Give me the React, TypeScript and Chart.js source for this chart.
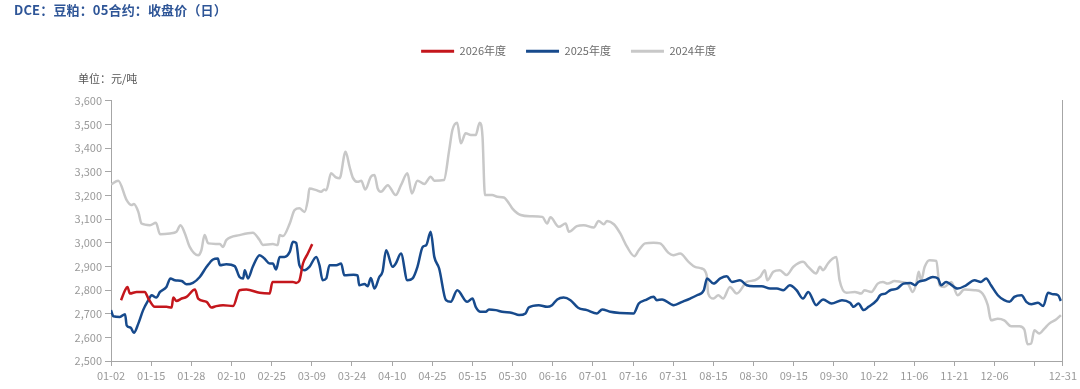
import React, { useEffect, useRef } from "react";
import { Chart, registerables } from "chart.js";

Chart.register(...registerables);

const TITLE = "DCE：豆粕：05合约：收盘价（日）";
const UNIT = "单位：元/吨";
const SERIES_NAMES = ["2026年度", "2025年度", "2024年度"];
const SERIES_COLORS = ["#c4161c", "#174a8c", "#c8c8c8"];

// x = trading-day index (0 = 01-02), y = 元/吨
const X_MAX = 237;
const TICK_POS = [0, 10, 20, 30, 40, 50, 60, 70, 80, 90, 100, 110, 120, 130, 140, 150, 160, 170, 180, 190, 200, 210, 220, 230, 237];
const TICK_LABELS = ["01-02", "01-15", "01-28", "02-10", "02-25", "03-09", "03-24", "04-10", "04-25", "05-15", "05-30", "06-16", "07-01", "07-16", "07-31", "08-15", "08-30", "09-15", "09-30", "10-22", "11-06", "11-21", "12-06", "", "12-31"];
const Y_MIN = 2500;
const Y_MAX = 3600;
const Y_STEP = 100;

const S2026_X = [2.5, 3.5, 4.1, 4.7, 6.4, 8.4, 9.3, 10.9, 13.8, 15.1, 15.5, 16.3, 17.6, 18.8, 20.9, 21.7, 23.8, 25, 26.2, 27.9, 30.4, 32, 33.7, 37, 39.5, 40.2, 43.6, 45.3, 46.1, 46.9, 47.8, 49, 50.1];
const S2026_Y = [2757, 2799, 2813, 2785, 2792, 2792, 2764, 2729, 2729, 2726, 2768, 2754, 2764, 2771, 2802, 2764, 2750, 2726, 2732, 2736, 2732, 2799, 2802, 2788, 2785, 2834, 2834, 2834, 2830, 2839, 2912, 2954, 2994];

const S2025_X = [0, 0.6, 2.2, 3.5, 3.9, 4.9, 5.7, 6.8, 8, 9.3, 10.1, 11.3, 12.2, 13.8, 14.8, 15.9, 17.6, 18.8, 20.4, 22.1, 23.8, 25.4, 26.6, 27.1, 28.7, 30.8, 32, 32.9, 33.3, 34.1, 35.3, 37, 38.2, 39.5, 40.3, 41.1, 42, 43.2, 44.5, 45.3, 46.1, 46.9, 48.2, 49.4, 51.1, 51.9, 52.7, 53.6, 54.4, 56.1, 57.3, 58.1, 60.4, 61.4, 61.8, 63.1, 63.9, 64.7, 65.6, 66.8, 67.6, 68.5, 70.1, 70.9, 72.2, 73.8, 75.1, 76.3, 77.6, 78.5, 79.6, 80.5, 81.7, 83.4, 84.6, 86.2, 88.7, 90, 90.8, 92, 93.3, 94.1, 95.8, 97.4, 99.9, 101.6, 103.2, 104, 106.5, 108.6, 109.8, 111.1, 112.7, 114.4, 116.3, 118.5, 121, 122.3, 124.3, 126.8, 130.1, 131.4, 133, 135.1, 135.9, 137.2, 140.1, 142.2, 144.2, 145.9, 147.6, 148.4, 150, 151.7, 153.3, 154.6, 156.6, 158.3, 160, 162, 164.1, 165.8, 167.4, 169, 170.7, 172.3, 173.6, 175.6, 176.5, 177.3, 179.4, 182, 184, 184.9, 186.1, 187.4, 188.6, 190.7, 191.5, 192.8, 194, 195.7, 197.3, 199, 200.2, 201, 202.6, 204.6, 205.9, 206.7, 207.9, 210.8, 212.9, 215, 216.6, 217.9, 219.1, 220.8, 222.4, 223.7, 224.9, 226.7, 227.9, 229.1, 230.8, 232.1, 233.3, 234.6, 235.8, 236.5];
const S2025_Y = [2715, 2689, 2686, 2698, 2651, 2641, 2619, 2658, 2715, 2757, 2778, 2768, 2792, 2813, 2849, 2841, 2838, 2824, 2830, 2855, 2898, 2929, 2933, 2905, 2909, 2901, 2855, 2849, 2884, 2849, 2898, 2947, 2933, 2912, 2912, 2887, 2940, 2940, 2961, 3004, 2999, 2905, 2884, 2898, 2940, 2905, 2841, 2849, 2905, 2905, 2912, 2862, 2864, 2862, 2820, 2825, 2816, 2851, 2806, 2855, 2877, 2968, 2898, 2912, 2954, 2841, 2849, 2898, 2982, 2990, 3046, 2940, 2891, 2757, 2750, 2799, 2750, 2764, 2729, 2708, 2708, 2718, 2715, 2708, 2703, 2694, 2701, 2726, 2736, 2729, 2736, 2760, 2768, 2757, 2725, 2715, 2701, 2718, 2708, 2703, 2701, 2743, 2757, 2771, 2757, 2760, 2736, 2750, 2764, 2778, 2799, 2849, 2827, 2849, 2858, 2834, 2841, 2820, 2816, 2816, 2806, 2806, 2799, 2820, 2799, 2764, 2792, 2736, 2750, 2760, 2743, 2757, 2746, 2729, 2743, 2715, 2729, 2757, 2778, 2785, 2799, 2806, 2827, 2830, 2820, 2834, 2841, 2855, 2849, 2820, 2834, 2806, 2820, 2841, 2834, 2849, 2820, 2778, 2757, 2750, 2771, 2778, 2750, 2740, 2746, 2732, 2788, 2782, 2778, 2754];

const S2024_X = [0, 1.8, 3.9, 5.1, 5.7, 6.8, 7.6, 9.7, 11.2, 12.2, 14.7, 16.3, 17.3, 18.4, 19.6, 21.7, 22.5, 23.3, 24.2, 27.1, 27.9, 28.7, 32, 35.3, 37, 37.8, 40.3, 41.5, 42, 42.8, 44.5, 45.7, 46.9, 48.2, 49, 49.4, 51.1, 52.3, 53.1, 53.6, 54.8, 56, 56.9, 58.4, 59.4, 60.2, 61.4, 62.3, 63.3, 64.7, 65.6, 66.4, 67.2, 68.9, 70.9, 72.2, 73.8, 74.9, 76.3, 78, 79.6, 80.5, 82.9, 84.2, 85, 86.2, 87.1, 88.3, 89.6, 90.8, 91.8, 92.5, 93.1, 94.9, 96.2, 97.8, 99.1, 99.9, 102, 104.5, 107.4, 108.6, 109.4, 111.5, 113.2, 114, 116, 117.7, 120.2, 121.4, 122.7, 123.5, 125.2, 126.8, 128.5, 130.3, 131.4, 133, 135.1, 136.7, 138.8, 140, 141.7, 143.8, 145.4, 147.1, 148.3, 148.7, 150, 151.2, 152.4, 154.1, 155.8, 158.3, 160.3, 161.6, 162.8, 163.4, 164.9, 166.5, 168.2, 169.9, 172.3, 173.6, 175.6, 176.5, 177.3, 178.5, 179.7, 180.6, 181.4, 183.1, 185.2, 186.8, 187.6, 189.3, 190.9, 192.2, 193.4, 195.1, 196.7, 198.4, 199.6, 200.5, 201.1, 201.7, 202.6, 203.8, 205.5, 206.3, 207.5, 209.2, 210.8, 212.5, 215, 216.6, 218.3, 219.1, 220.8, 222.4, 224.1, 226.2, 227.4, 228.2, 229.1, 229.9, 231.1, 232.4, 233.6, 235.3, 236.5];
const S2024_Y = [3246, 3262, 3180, 3159, 3163, 3130, 3081, 3074, 3084, 3036, 3039, 3046, 3074, 3039, 2982, 2947, 2968, 3032, 2997, 2994, 2982, 3011, 3032, 3042, 3011, 2990, 2994, 2990, 3032, 3028, 3081, 3138, 3145, 3130, 3180, 3229, 3222, 3215, 3225, 3222, 3293, 3276, 3272, 3384, 3321, 3275, 3257, 3262, 3225, 3279, 3286, 3229, 3215, 3243, 3201, 3243, 3293, 3208, 3262, 3248, 3279, 3262, 3265, 3391, 3476, 3507, 3420, 3462, 3455, 3455, 3507, 3448, 3201, 3201, 3194, 3191, 3166, 3145, 3117, 3112, 3109, 3081, 3107, 3067, 3081, 3046, 3070, 3074, 3064, 3092, 3078, 3092, 3078, 3039, 2982, 2943, 2968, 2997, 3000, 2997, 2957, 2947, 2954, 2919, 2898, 2891, 2863, 2785, 2764, 2778, 2764, 2813, 2785, 2834, 2841, 2855, 2884, 2841, 2877, 2884, 2863, 2898, 2919, 2898, 2870, 2898, 2884, 2912, 2933, 2940, 2841, 2788, 2792, 2785, 2799, 2792, 2827, 2834, 2827, 2838, 2834, 2827, 2792, 2827, 2877, 2841, 2898, 2926, 2923, 2820, 2813, 2834, 2778, 2802, 2799, 2792, 2736, 2672, 2679, 2672, 2647, 2647, 2633, 2571, 2574, 2630, 2616, 2637, 2658, 2675, 2694];

const FONT = "'Noto Sans CJK SC', 'Noto Sans', sans-serif";
const AXIS_COLOR = "#a6a6a6";
const TICK_TEXT = "#9a9a9a";

const toPoints = (xs: number[], ys: number[]) => xs.map((x, i) => ({ x, y: ys[i] }));

const legendHeightPlugin = {
  id: "legendHeight",
  beforeInit(chart: any) {
    const lg = chart.legend;
    if (lg && !lg.__patched) {
      const orig = lg.fit;
      lg.fit = function () {
        orig.call(this);
        this.height = 75;
      };
      lg.__patched = true;
    }
  },
};

export default function App() {
  const ref = useRef<HTMLCanvasElement | null>(null);

  useEffect(() => {
    if (!ref.current) return;
    const seriesX = [S2026_X, S2025_X, S2024_X];
    const seriesY = [S2026_Y, S2025_Y, S2024_Y];
    const chart = new Chart(ref.current, {
      type: "line",
      data: {
        datasets: SERIES_NAMES.map((name, i) => ({
          label: name,
          data: toPoints(seriesX[i], seriesY[i]),
          borderColor: SERIES_COLORS[i],
          backgroundColor: SERIES_COLORS[i],
          borderWidth: 2.5,
          pointRadius: 0,
          pointHoverRadius: 0,
          fill: false,
          cubicInterpolationMode: "monotone",
          xAxisID: "x",
          yAxisID: "y",
        })),
      },
      options: {
        animation: false,
        responsive: false,
        maintainAspectRatio: false,
        events: [],
        layout: { padding: { left: 57, right: 0, top: 25.7, bottom: 0 } },
        plugins: {
          title: { display: false },
          tooltip: { enabled: false },
          legend: {
            display: true,
            position: "top",
            align: "center",
            labels: {
              boxWidth: 33,
              boxHeight: 3,
              padding: 20,
              color: "#6b6b6b",
              font: { family: FONT, size: 11 },
              generateLabels: (c: any) =>
                (Chart.defaults.plugins.legend.labels.generateLabels as any)(c).map((l: any) => ({
                  ...l,
                  lineWidth: 0,
                })),
            },
          },
        },
        scales: {
          x: {
            type: "linear",
            position: "bottom",
            min: 0,
            max: X_MAX,
            afterBuildTicks: (s: any) => {
              s.ticks = TICK_POS.map((v) => ({ value: v }));
            },
            afterFit: (s: any) => {
              s.height = 28;
            },
            ticks: {
              autoSkip: false,
              maxRotation: 0,
              minRotation: 0,
              padding: 3,
              color: TICK_TEXT,
              font: { family: FONT, size: 11 },
              callback: (_v: any, i: number) => TICK_LABELS[i] ?? "",
            },
            grid: { display: true, drawOnChartArea: false, drawTicks: true, tickLength: 5, color: AXIS_COLOR, lineWidth: 1 },
            border: { display: true, color: AXIS_COLOR, width: 1 },
          },
          y: {
            type: "linear",
            position: "left",
            min: Y_MIN,
            max: Y_MAX,
            afterFit: (s: any) => {
              s.width = 54;
            },
            ticks: {
              stepSize: Y_STEP,
              padding: 3,
              color: TICK_TEXT,
              font: { family: FONT, size: 11 },
              callback: (v: any) => Number(v).toLocaleString("en-US"),
            },
            grid: { display: true, drawOnChartArea: false, drawTicks: true, tickLength: 6, color: AXIS_COLOR, lineWidth: 1 },
            border: { display: true, color: AXIS_COLOR, width: 1 },
          },
          yRight: {
            type: "linear",
            position: "right",
            display: true,
            afterFit: (s: any) => {
              s.width = 14.5;
            },
            ticks: { display: false },
            grid: { display: false },
            border: { display: true, color: AXIS_COLOR, width: 1 },
          },
        },
      },
      plugins: [legendHeightPlugin],
    } as any);
    return () => chart.destroy();
  }, []);

  return (
    <div style={{ position: "absolute", left: 0, top: 0, width: 1080, height: 389, background: "#fff" }}>
      <canvas ref={ref} width={1080} height={389} style={{ display: "block", width: 1080, height: 389 }} />
      <div
        style={{
          position: "absolute",
          left: 14,
          top: 2,
          fontFamily: FONT,
          fontWeight: 700,
          fontSize: 13,
          letterSpacing: "0.15px",
          lineHeight: "16px",
          color: "#2e5597",
          whiteSpace: "nowrap",
        }}
      >
        {TITLE}
      </div>
      <div
        style={{
          position: "absolute",
          left: 78,
          top: 71,
          fontFamily: FONT,
          fontSize: 11,
          lineHeight: "14px",
          color: "#555",
          whiteSpace: "nowrap",
        }}
      >
        {UNIT}
      </div>
    </div>
  );
}
